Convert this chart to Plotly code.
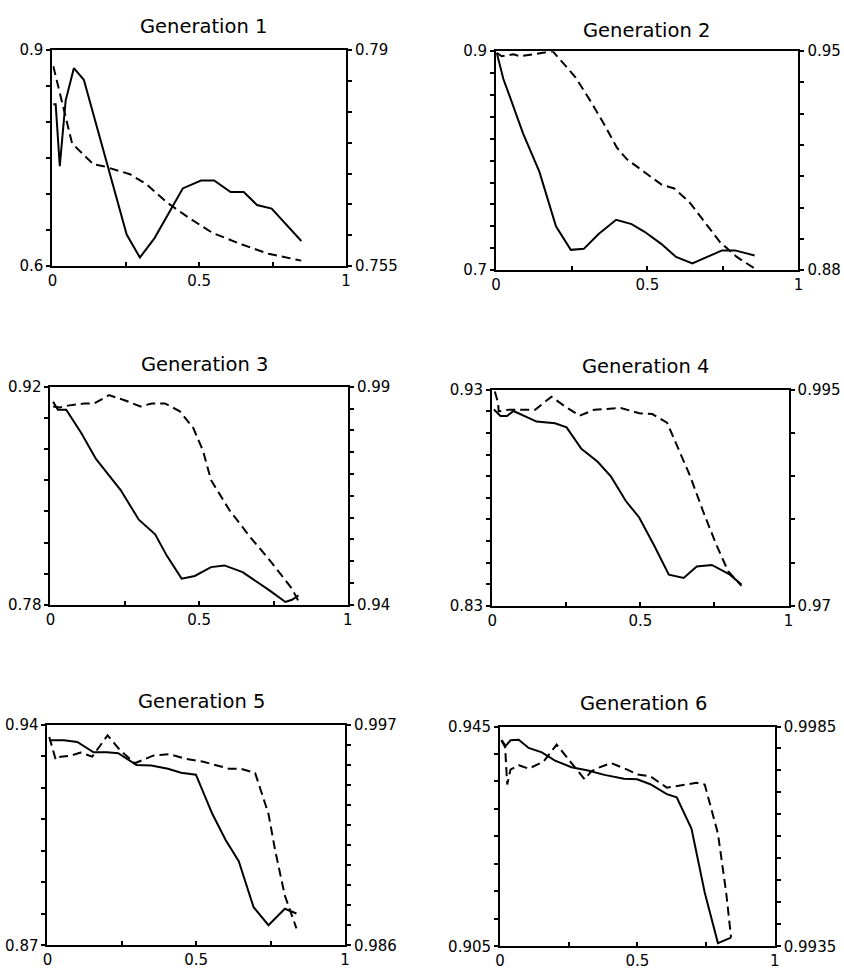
import numpy as np
import plotly.graph_objects as go

# ---------------- data ----------------
titles = ["Generation 1", "Generation 2", "Generation 3",
          "Generation 4", "Generation 5", "Generation 6"]

g1_solid_x = [0.003, 0.011, 0.025, 0.045, 0.073, 0.107, 0.253, 0.298, 0.348, 0.444,
              0.506, 0.551, 0.607, 0.652, 0.697, 0.747, 0.848]
g1_solid_y = [0.825, 0.825, 0.739, 0.830, 0.875, 0.859, 0.644, 0.612, 0.639, 0.708,
              0.719, 0.719, 0.703, 0.703, 0.685, 0.680, 0.635]
g1_dash_x = [0.003, 0.022, 0.045, 0.067, 0.140, 0.174, 0.264, 0.320, 0.388, 0.466,
             0.545, 0.646, 0.736, 0.848]
g1_dash_y = [0.7874, 0.7839, 0.7792, 0.7749, 0.7715, 0.7712, 0.7699, 0.7683, 0.7654,
             0.7628, 0.7604, 0.7585, 0.7570, 0.7559]

g2_solid_x = [0.002, 0.024, 0.046, 0.089, 0.143, 0.198, 0.247, 0.290, 0.339, 0.397,
              0.448, 0.491, 0.546, 0.595, 0.649, 0.698, 0.747, 0.790, 0.855]
g2_solid_y = [0.8985, 0.8746, 0.858, 0.825, 0.790, 0.740, 0.7185, 0.7194, 0.733, 0.746,
              0.742, 0.735, 0.724, 0.712, 0.706, 0.712, 0.718, 0.718, 0.7134]
g2_dash_x = [0.002, 0.018, 0.057, 0.078, 0.122, 0.187, 0.230, 0.263, 0.317, 0.361,
             0.399, 0.432, 0.491, 0.546, 0.589, 0.638, 0.687, 0.741, 0.796, 0.855]
g2_dash_y = [0.9495, 0.9484, 0.9490, 0.9484, 0.9490, 0.9500, 0.9453, 0.9416, 0.9333,
             0.9260, 0.9192, 0.9155, 0.9113, 0.9074, 0.9061, 0.9019, 0.8957, 0.8889,
             0.8842, 0.8805]

g3_solid_x = [0.009, 0.025, 0.053, 0.103, 0.153, 0.236, 0.297, 0.352, 0.391, 0.441,
              0.485, 0.540, 0.585, 0.646, 0.734, 0.790, 0.812, 0.834]
g3_solid_y = [0.9105, 0.9053, 0.9053, 0.8905, 0.8737, 0.8537, 0.8347, 0.8253, 0.8116,
              0.7968, 0.7985, 0.8042, 0.8053, 0.8010, 0.7896, 0.7818, 0.7832, 0.7860]
g3_dash_x = [0.009, 0.031, 0.059, 0.114, 0.147, 0.197, 0.247, 0.302, 0.341, 0.385,
             0.435, 0.480, 0.513, 0.540, 0.601, 0.673, 0.734, 0.790, 0.812, 0.834]
g3_dash_y = [0.9855, 0.9853, 0.9857, 0.9862, 0.9862, 0.9881, 0.9870, 0.9855, 0.9862,
             0.9862, 0.9844, 0.9806, 0.9753, 0.9686, 0.9618, 0.9554, 0.9505, 0.9456,
             0.9437, 0.9408]

g4_solid_x = [0.006, 0.028, 0.050, 0.072, 0.150, 0.212, 0.251, 0.301, 0.356, 0.401,
              0.451, 0.496, 0.546, 0.596, 0.646, 0.690, 0.741, 0.802, 0.841]
g4_solid_y = [0.9209, 0.9179, 0.9179, 0.9202, 0.9153, 0.9145, 0.9126, 0.9027, 0.8967,
              0.8898, 0.8785, 0.8709, 0.8580, 0.8444, 0.8429, 0.8482, 0.8489, 0.8444,
              0.8398]
g4_dash_x = [0.009, 0.020, 0.022, 0.056, 0.145, 0.200, 0.245, 0.295, 0.345, 0.434,
             0.496, 0.540, 0.590, 0.635, 0.668, 0.713, 0.757, 0.796, 0.841]
g4_dash_y = [0.9948, 0.9935, 0.9925, 0.9927, 0.9927, 0.9942, 0.9931, 0.9920, 0.9927,
             0.9929, 0.9923, 0.9922, 0.9912, 0.9876, 0.9850, 0.9808, 0.9770, 0.9740,
             0.9723]

g5_solid_x = [0.006, 0.055, 0.100, 0.155, 0.200, 0.238, 0.299, 0.349, 0.405, 0.449,
              0.499, 0.554, 0.599, 0.643, 0.693, 0.743, 0.798, 0.837]
g5_solid_y = [0.9350, 0.9350, 0.9345, 0.9312, 0.9312, 0.9309, 0.9272, 0.9270, 0.9260,
              0.9247, 0.9241, 0.9117, 0.9034, 0.8967, 0.8821, 0.8764, 0.8816, 0.8801]
g5_dash_x = [0.006, 0.028, 0.044, 0.078, 0.111, 0.150, 0.202, 0.244, 0.294, 0.355,
             0.410, 0.466, 0.521, 0.565, 0.610, 0.649, 0.698, 0.743, 0.765, 0.798, 0.837]
g5_dash_y = [0.99638, 0.99524, 0.99540, 0.99545, 0.99561, 0.99540, 0.99646, 0.99572,
             0.99507, 0.99545, 0.99552, 0.99529, 0.99516, 0.99500, 0.99480, 0.99480,
             0.99459, 0.99255, 0.99076, 0.98848, 0.98685]

g6_solid_x = [0.004, 0.018, 0.038, 0.068, 0.104, 0.152, 0.200, 0.260, 0.320, 0.380,
              0.451, 0.499, 0.547, 0.607, 0.643, 0.697, 0.745, 0.793, 0.841]
g6_solid_y = [0.9425, 0.9413, 0.9425, 0.9426, 0.9411, 0.9403, 0.9388, 0.9376, 0.9370,
              0.9362, 0.9355, 0.9354, 0.9345, 0.9327, 0.9321, 0.9264, 0.9148, 0.9056,
              0.9066]
g6_dash_x = [0.006, 0.018, 0.026, 0.038, 0.068, 0.104, 0.158, 0.206, 0.260, 0.308,
             0.332, 0.362, 0.404, 0.463, 0.499, 0.547, 0.607, 0.667, 0.715, 0.745,
             0.793, 0.823, 0.841]
g6_dash_y = [0.99819, 0.99808, 0.99718, 0.99752, 0.99762, 0.99754, 0.99770, 0.99809,
             0.99767, 0.99730, 0.99748, 0.99757, 0.99767, 0.99752, 0.99741, 0.99737,
             0.99711, 0.99718, 0.99722, 0.99718, 0.99607, 0.99473, 0.99370]

# axis ranges, number of tick intervals and end labels
left_ranges = [[0.6, 0.9], [0.7, 0.9], [0.78, 0.92], [0.83, 0.93], [0.87, 0.94], [0.905, 0.945]]
left_labels = [["0.6", "0.9"], ["0.7", "0.9"], ["0.78", "0.92"], ["0.83", "0.93"],
               ["0.87", "0.94"], ["0.905", "0.945"]]
left_intervals = [6, 10, 7, 10, 7, 8]
right_ranges = [[0.755, 0.79], [0.88, 0.95], [0.94, 0.99], [0.97, 0.995], [0.986, 0.997],
                [0.9935, 0.9985]]
right_labels = [["0.755", "0.79"], ["0.88", "0.95"], ["0.94", "0.99"], ["0.97", "0.995"],
                ["0.986", "0.997"], ["0.9935", "0.9985"]]
right_intervals = [7, 7, 10, 5, 11, 10]
x_tickvals = [0, 0.25, 0.5, 0.75, 1]
x_ticktext = ["0", "", "0.5", "", "1"]

solid_x = [g1_solid_x, g2_solid_x, g3_solid_x, g4_solid_x, g5_solid_x, g6_solid_x]
solid_y = [g1_solid_y, g2_solid_y, g3_solid_y, g4_solid_y, g5_solid_y, g6_solid_y]
dash_x = [g1_dash_x, g2_dash_x, g3_dash_x, g4_dash_x, g5_dash_x, g6_dash_x]
dash_y = [g1_dash_y, g2_dash_y, g3_dash_y, g4_dash_y, g5_dash_y, g6_dash_y]

# ---------------- layout (pixel boxes of each panel) ----------------
W, H = 844, 975
boxes = [(48, 345, 42, 262), (497, 803, 43, 266),
         (46, 347, 385, 607), (493, 793, 388, 608),
         (43, 344, 729, 954), (501, 779, 731, 955)]
title_pos = [(201, 18), (649, 22), (202, 362), (648, 364), (199, 706), (646, 708)]

FONT = "DejaVu Sans, Liberation Sans, Arial, sans-serif"
fig = go.Figure()
layout = dict(width=W, height=H, margin=dict(l=0, r=0, t=0, b=0),
              paper_bgcolor="white", plot_bgcolor="white", showlegend=False,
              font=dict(family=FONT, size=15, color="black"))
annotations = []

for i in range(6):
    xl, xr, yt, yb = boxes[i]
    xd = [xl / W, xr / W]
    yd = [1 - yb / H, 1 - yt / H]
    xn = f"x{i + 1}" if i else "x"
    yl_n = 2 * i + 1
    yr_n = 2 * i + 2
    yl_ref = f"y{yl_n}" if yl_n > 1 else "y"
    yr_ref = f"y{yr_n}"

    fig.add_trace(go.Scatter(x=solid_x[i], y=solid_y[i], mode="lines",
                             line=dict(color="black", width=2),
                             xaxis=xn, yaxis=yl_ref))
    fig.add_trace(go.Scatter(x=dash_x[i], y=dash_y[i], mode="lines",
                             line=dict(color="black", width=2, dash="9px,5px"),
                             xaxis=xn, yaxis=yr_ref))

    common = dict(showline=True, linecolor="black", linewidth=2, showgrid=False,
                  zeroline=False, ticklen=4, tickwidth=1.5, tickcolor="black",
                  tickfont=dict(family=FONT, size=15, color="black"))
    xkey = f"xaxis{i + 1}" if i else "xaxis"
    layout[xkey] = dict(domain=xd, range=[0, 1], anchor=yl_ref, mirror=True,
                        ticks="inside", tickmode="array", tickvals=x_tickvals,
                        ticktext=x_ticktext, **common)
    lo, hi = left_ranges[i]
    lt = list(np.linspace(lo, hi, left_intervals[i] + 1))
    ltext = [left_labels[i][0]] + [""] * (left_intervals[i] - 1) + [left_labels[i][1]]
    ykey = f"yaxis{yl_n}" if yl_n > 1 else "yaxis"
    layout[ykey] = dict(domain=yd, range=[lo, hi], anchor=xn, side="left",
                        ticks="outside", tickmode="array", tickvals=lt,
                        ticktext=ltext, **common)
    lo2, hi2 = right_ranges[i]
    rt = list(np.linspace(lo2, hi2, right_intervals[i] + 1))
    rtext = [right_labels[i][0]] + [""] * (right_intervals[i] - 1) + [right_labels[i][1]]
    layout[f"yaxis{yr_n}"] = dict(range=[lo2, hi2], anchor=xn, overlaying=yl_ref,
                                  side="right", ticks="outside", tickmode="array",
                                  tickvals=rt, ticktext=rtext, **common)

    tx, ty = title_pos[i]
    annotations.append(dict(text=titles[i], xref="paper", yref="paper",
                            x=tx / W, y=1 - ty / H,
                            xanchor="center", yanchor="middle", showarrow=False,
                            font=dict(family=FONT, size=19.5, color="black")))

layout["annotations"] = annotations
fig.update_layout(**layout)
fig.write_html("out.html",
               config={"displayModeBar": False},
               post_script="document.body.style.margin='0px';"
                           "document.body.style.overflow='hidden';")
